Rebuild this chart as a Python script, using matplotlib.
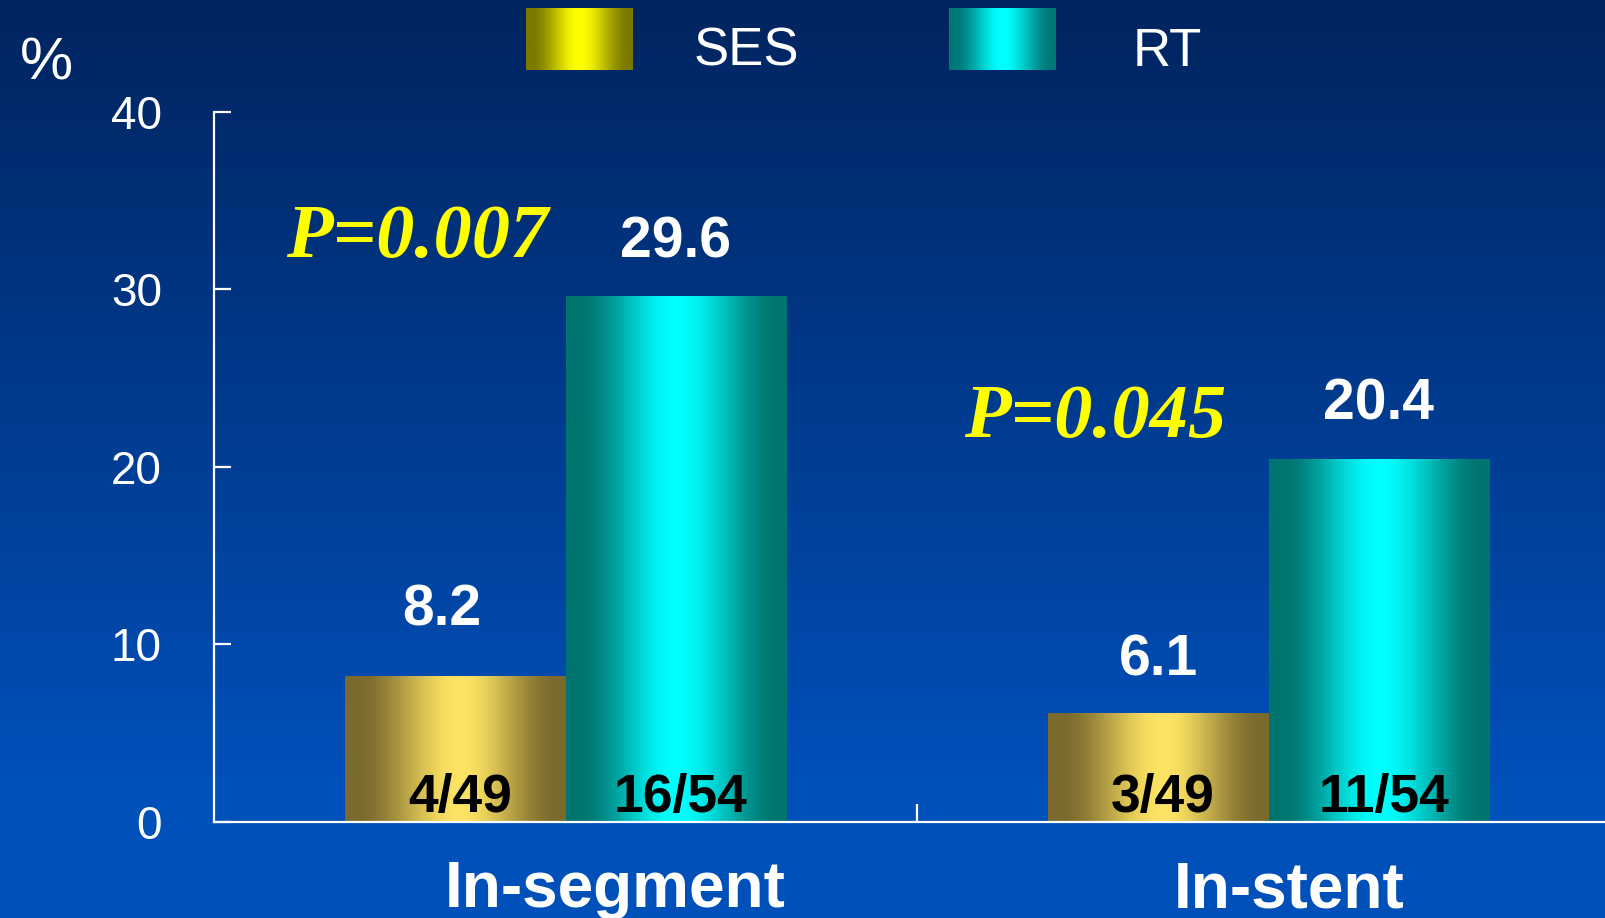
import numpy as np
import matplotlib
matplotlib.use("Agg")
import matplotlib.pyplot as plt
from matplotlib.colors import to_rgb

# ---- data ----
categories = ["In-segment", "In-stent"]
series_names = ["SES", "RT"]
ses_values = [8.2, 6.1]
rt_values = [29.6, 20.4]
ses_counts = ["4/49", "3/49"]
rt_counts = ["16/54", "11/54"]
p_values = ["P=0.007", "P=0.045"]
y_ticks = [0, 10, 20, 30, 40]

# ---- styling ----
SANS = ["Liberation Sans", "DejaVu Sans"]
SERIF = ["Liberation Serif", "DejaVu Serif"]
W, H, DPI = 1605, 918, 100
PX = 72.0 / DPI  # points per pixel

fig = plt.figure(figsize=(W / DPI, H / DPI), dpi=DPI)

# background: vertical navy-to-blue gradient
bg = fig.add_axes([0, 0, 1, 1], zorder=-10)
yy = np.linspace(0, 1, 400)
frac = np.clip(yy / 0.85, 0, 1)
top_c = np.array(to_rgb("#00245F"))
bot_c = np.array(to_rgb("#0050BA"))
grad = top_c[None, :] * (1 - frac[:, None]) + bot_c[None, :] * frac[:, None]
bg.imshow(grad[:, None, :], aspect="auto", extent=[0, 1, 0, 1], origin="upper")
bg.set_axis_off()


def shade(dark, light, n=256, peak=0.52):
    """Horizontal cylinder-like shading: dark edges, bright centre."""
    t = np.linspace(0, 1, n)
    left = np.clip((t - 0.05) / (peak - 0.05), 0, 1)
    right = np.clip((0.97 - t) / (0.97 - peak), 0, 1)
    s = np.where(t < peak, left, right)
    s = s * s * (3 - 2 * s)
    d = np.array(to_rgb(dark))
    l = np.array(to_rgb(light))
    row = d[None, :] * (1 - s[:, None]) + l[None, :] * s[:, None]
    return row[None, :, :]


ses_grad = shade("#7B6A2D", "#FEE463")
rt_grad = shade("#00746F", "#00FFFF", peak=0.5)

# main axes (right end runs off the figure edge)
left_px, right_px = 214, 1620
bottom_px, top_px = 822, 111.6
ax = fig.add_axes([left_px / W, 1 - bottom_px / H,
                   (right_px - left_px) / W, (bottom_px - top_px) / H])
ax.set_facecolor("none")

x = np.arange(len(categories))
bw = 0.314
ses_bars = ax.bar(x - bw / 2, ses_values, bw, color="none", zorder=2)
rt_bars = ax.bar(x + bw / 2, rt_values, bw, color="none", zorder=2)

for bars, g in ((ses_bars, ses_grad), (rt_bars, rt_grad)):
    for b in bars:
        x0, w, h = b.get_x(), b.get_width(), b.get_height()
        ax.imshow(g, extent=[x0, x0 + w, 0, h], aspect="auto",
                  interpolation="bilinear", zorder=2)

ax.set_xlim(-0.5, 1.5)
ax.set_ylim(0, 40)
ax.set_aspect("auto")

# axes styling
for s in ("top", "right"):
    ax.spines[s].set_visible(False)
for s in ("left", "bottom"):
    ax.spines[s].set_color("white")
    ax.spines[s].set_linewidth(1.6)
    ax.spines[s].set_zorder(3)
ax.set_yticks(y_ticks)
ax.set_yticklabels([str(v) for v in y_ticks])
ax.tick_params(axis="y", direction="in", length=17 * PX, width=1.6,
               colors="white", pad=52 * PX, labelsize=33)
for lab in ax.get_yticklabels():
    lab.set_family(SANS)
ax.set_xticks([0.5])
ax.set_xticklabels([""])
ax.tick_params(axis="x", direction="in", length=18 * PX, width=1.6,
               colors="white")

# value labels above the bars
value_dx = [[-13, 0], [0, 0]]
value_dy = [[51, 38], [39, 40]]
for si, (bars, vals) in enumerate(((ses_bars, ses_values), (rt_bars, rt_values))):
    for ci, (b, v) in enumerate(zip(bars, vals)):
        ax.annotate(f"{v:.1f}", xy=(b.get_x() + b.get_width() / 2, v),
                    xytext=(value_dx[si][ci] * PX, value_dy[si][ci] * PX),
                    textcoords="offset points", ha="center", va="baseline",
                    fontsize=41, fontweight="bold", color="white",
                    family=SANS, zorder=5)

# patient counts inside the bars
for bars, counts in ((ses_bars, ses_counts), (rt_bars, rt_counts)):
    for b, c in zip(bars, counts):
        ax.annotate(c, xy=(b.get_x() + b.get_width() / 2, 0),
                    xytext=(5 * PX, 10 * PX), textcoords="offset points",
                    ha="center", va="baseline", fontsize=38.5,
                    fontweight="bold", color="black", family=SANS, zorder=5)

# p-values
p_pos = [(-0.2105, 31.8), (0.754, 21.7)]
for (px_, py_), txt in zip(p_pos, p_values):
    ax.text(px_, py_, txt, ha="center", va="baseline", fontsize=55,
            fontweight="bold", fontstyle="italic", color="#FFFF00",
            family=SERIF, zorder=5)

# category labels
cat_dx = [49.5, 21]
for i, (name, dx) in enumerate(zip(categories, cat_dx)):
    ax.annotate(name, xy=(x[i], 0), xytext=(dx * PX, -85 * PX),
                textcoords="offset points", ha="center", va="baseline",
                fontsize=46, fontweight="bold", color="white",
                family=SANS, annotation_clip=False)

# y-axis unit
fig.text(20 / W, 1 - 80 / H, "%", fontsize=43, color="white",
         family=SANS, ha="left", va="baseline")

# legend drawn with shaded swatches
legend_grads = [shade("#7A7A00", "#FFFF00", peak=0.5),
                shade("#007878", "#00FFFF", peak=0.5)]
swatch_x = [526, 949]
text_x = [694, 1133]
for name, g, sx, tx in zip(series_names, legend_grads, swatch_x, text_x):
    lax = fig.add_axes([sx / W, 1 - 70 / H, 107 / W, 62 / H])
    lax.imshow(g, aspect="auto", interpolation="bilinear")
    lax.set_axis_off()
    fig.text(tx / W, 1 - 66 / H, name, fontsize=38, color="white",
             family=SANS, ha="left", va="baseline")

fig.savefig("out.png", dpi=DPI)
